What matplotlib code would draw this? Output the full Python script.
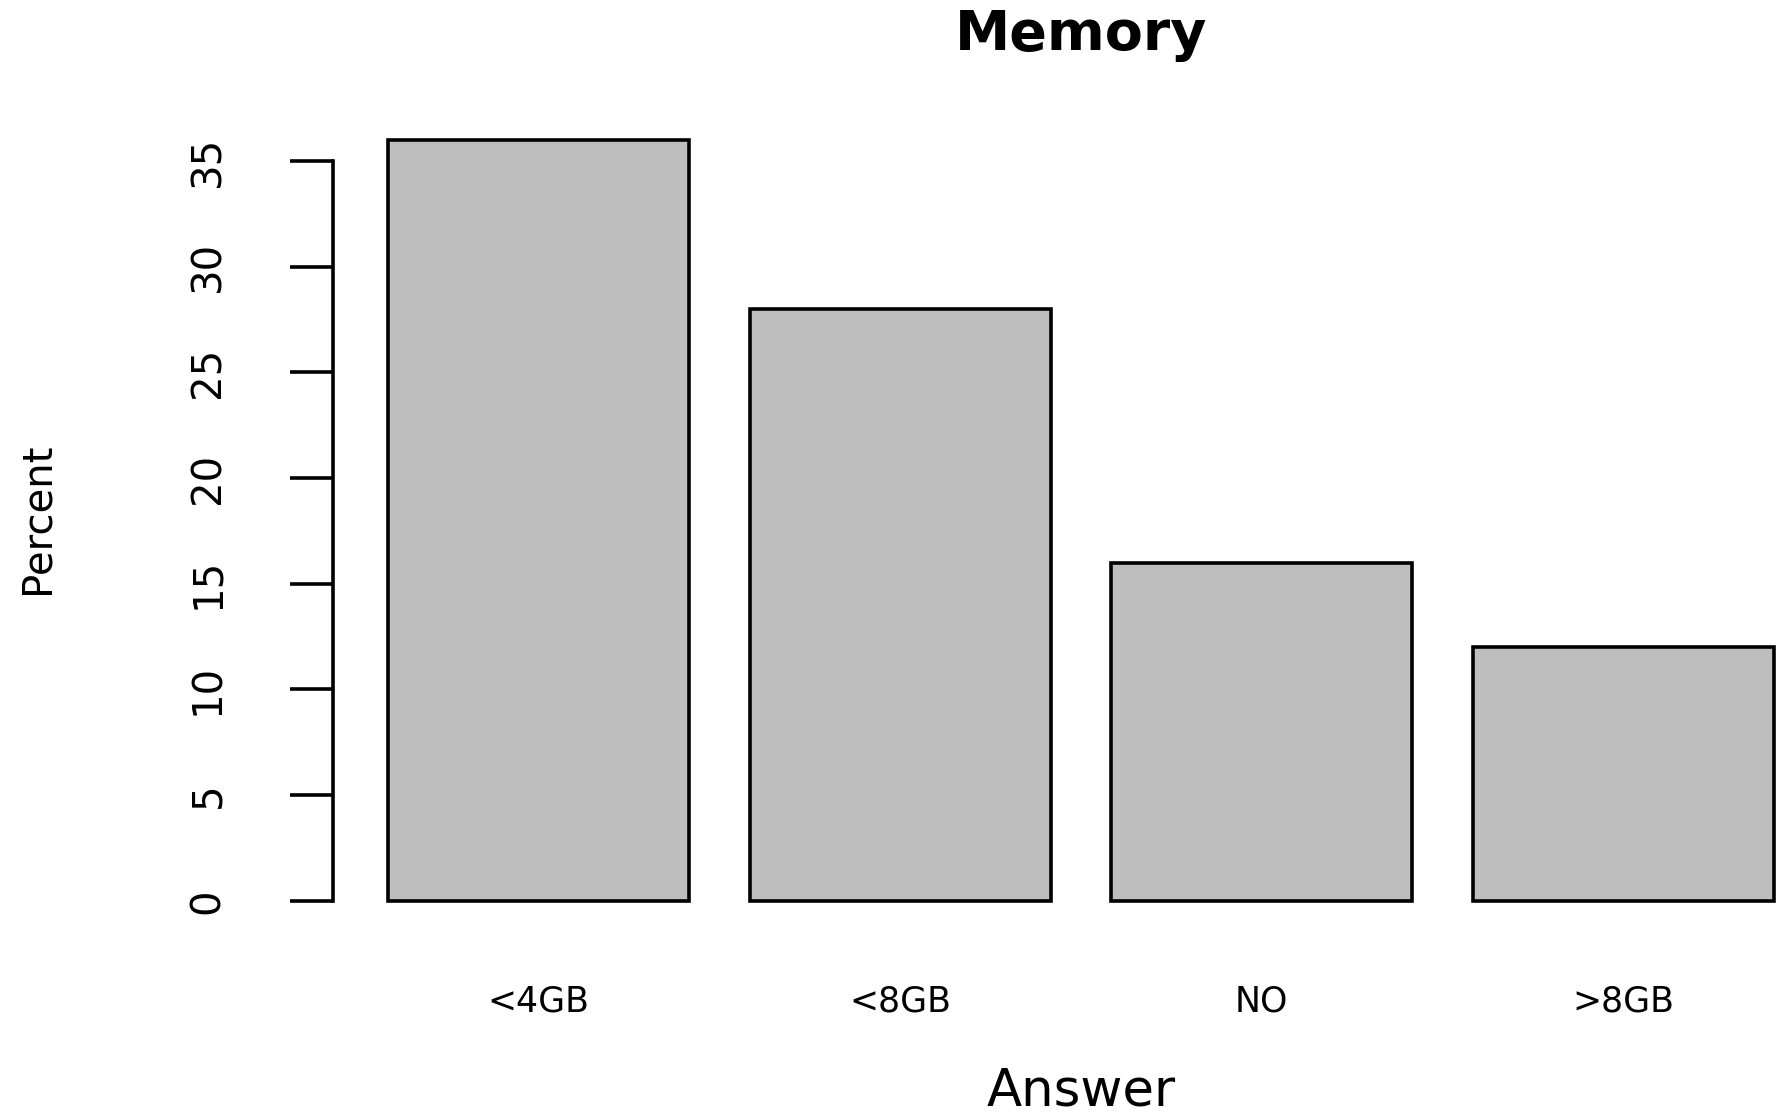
import matplotlib
matplotlib.use("Agg")
import matplotlib.pyplot as plt
import numpy as np

answers = ['<4GB', '<8GB', 'NO', '>8GB']
percent = [36, 28, 16, 12]
y_ticks = [0, 5, 10, 15, 20, 25, 30, 35]

# R barplot layout: width 1, space 0.2
bar_pos = 0.7 + 1.2 * np.arange(len(answers))

fig = plt.figure(figsize=(17.81, 11.17), dpi=100)
ax = fig.add_axes([0.1867, 0.1662, 0.8405, 0.7359])

ax.bar(bar_pos, percent, width=1.0, color='#bebebe', edgecolor='black', linewidth=2.6)

ax.set_xlim(0.016, 4.984)
ax.set_ylim(-1.44, 37.44)

for side in ['top', 'right', 'bottom']:
    ax.spines[side].set_visible(False)
ax.spines['left'].set_bounds(0, 35)
ax.spines['left'].set_linewidth(2.6)

ax.set_yticks(y_ticks)
ax.set_yticklabels([str(v) for v in y_ticks], rotation=90, va='center', fontsize=29)
ax.tick_params(axis='y', length=31, width=2.6, pad=44)

ax.set_xticks(bar_pos)
ax.set_xticklabels(answers, fontsize=25)
ax.tick_params(axis='x', length=0, pad=38)

ax.set_title('Memory', fontsize=40, fontweight='bold', pad=43)

ax.set_xlabel('Answer', fontsize=37)
ax.xaxis.label.set_va('baseline')
ax.xaxis.set_label_coords(0.5, -0.212)

ax.set_ylabel('Percent', fontsize=29)
ax.yaxis.label.set_va('center')
ax.yaxis.set_label_coords(-0.197, 0.503)

plt.savefig('out.png', dpi=100)
plt.close(fig)
